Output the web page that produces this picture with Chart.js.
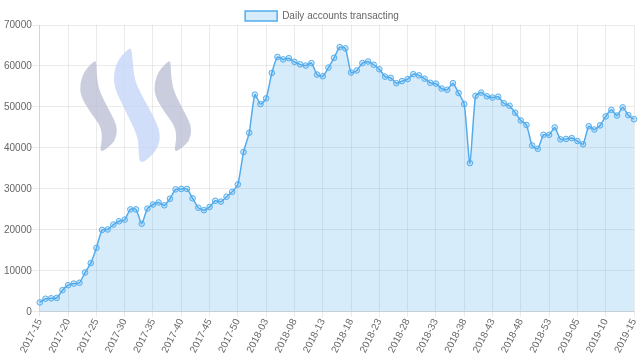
<!DOCTYPE html>
<html>
<head>
<meta charset="utf-8">
<script src="https://cdn.jsdelivr.net/npm/chart.js@4/dist/chart.umd.min.js"></script>
<style>
html,body{margin:0;padding:0;background:#fff;}
#wrap{width:640px;height:361px;position:relative;}
</style>
</head>
<body>
<div id="wrap"><canvas id="c" width="640" height="361"></canvas></div>
<script>
const seriesName = "Daily accounts transacting";
const weeks = [
"2017-15","2017-16","2017-17","2017-18","2017-19","2017-20","2017-21","2017-22","2017-23","2017-24",
"2017-25","2017-26","2017-27","2017-28","2017-29","2017-30","2017-31","2017-32","2017-33","2017-34",
"2017-35","2017-36","2017-37","2017-38","2017-39","2017-40","2017-41","2017-42","2017-43","2017-44",
"2017-45","2017-46","2017-47","2017-48","2017-49","2017-50","2017-51","2017-52",
"2018-01","2018-02","2018-03","2018-04","2018-05","2018-06","2018-07","2018-08","2018-09","2018-10",
"2018-11","2018-12","2018-13","2018-14","2018-15","2018-16","2018-17","2018-18","2018-19","2018-20",
"2018-21","2018-22","2018-23","2018-24","2018-25","2018-26","2018-27","2018-28","2018-29","2018-30",
"2018-31","2018-32","2018-33","2018-34","2018-35","2018-36","2018-37","2018-38","2018-39","2018-40",
"2018-41","2018-42","2018-43","2018-44","2018-45","2018-46","2018-47","2018-48","2018-49","2018-50",
"2018-51","2018-52","2018-53",
"2019-01","2019-02","2019-03","2019-04","2019-05","2019-06","2019-07","2019-08","2019-09","2019-10",
"2019-11","2019-12","2019-13","2019-14","2019-15"
];
const accounts = [
2300,3200,3300,3400,5300,6500,6900,7100,9600,11900,
15600,20000,20100,21300,22100,22500,25000,25000,21500,25200,
26200,26700,26000,27600,29900,30000,30000,27700,25400,24800,
25600,27100,26900,28100,29300,31100,39000,43700,
53000,50700,52100,58300,62200,61600,61900,61000,60400,60100,
60700,57900,57500,59600,62000,64600,64300,58400,58900,60700,
61100,60300,59200,57400,57100,55800,56300,56800,58000,57700,
56900,55900,55700,54500,54200,55800,53400,50700,36300,52700,
53500,52600,52300,52500,50900,50300,48600,46700,45600,40600,
39800,43200,43200,
45000,42100,42200,42400,41700,40900,45300,44500,45500,47700,
49300,47900,49900,48000,47000
];
const yTicks = [0,10000,20000,30000,40000,50000,60000,70000];
const labelEvery = 5;

// decorative logo drawn behind the data
function smoothShape(ctx, pts){
  ctx.beginPath();
  const n = pts.length;
  const mid = (a,b)=>[(a[0]+b[0])/2,(a[1]+b[1])/2];
  let m0 = mid(pts[n-1], pts[0]);
  ctx.moveTo(m0[0], m0[1]);
  for(let i=0;i<n;i++){
    const p = pts[i], q = pts[(i+1)%n];
    const m = mid(p,q);
    ctx.quadraticCurveTo(p[0],p[1],m[0],m[1]);
  }
  ctx.closePath();
  ctx.fill();
}
const logoPlugin = {
  id:'logo',
  beforeDatasetsDraw(chart){
    const ctx = chart.ctx;
    ctx.save();
    const side = [[96,60],[96.5,68],[97,77],[99,90],[107,106.5],[114.5,120],[117.5,130],[115,141],[107.5,148],[99.5,153],[102.5,137],[100,125],[90,112],[80.5,96],[80,83],[84.5,71],[91,64]];
    const midS = [[131.5,47],[132.5,60],[134.5,80],[142.5,97],[154,117],[160.5,133],[158.5,147],[149.5,158],[140,164],[138.5,153],[138.5,140],[133.5,127],[123.5,107],[114.5,88],[113.5,73],[118,60],[125,52]];
    ctx.fillStyle = 'rgba(182,186,208,0.72)';
    smoothShape(ctx, side);
    smoothShape(ctx, side.map(p=>[p[0]+74.3,p[1]]));
    ctx.fillStyle = 'rgba(196,214,248,0.8)';
    smoothShape(ctx, midS);
    ctx.restore();
  }
};

const FONT = "'Liberation Sans', Arial, Helvetica, sans-serif";
Chart.defaults.font.family = FONT;
Chart.defaults.font.size = 10;
Chart.defaults.color = '#666';

new Chart(document.getElementById('c'), {
  type:'line',
  data:{
    labels: weeks,
    datasets:[{
      label: seriesName,
      data: accounts,
      borderColor: 'rgb(84,172,236)',
      backgroundColor: 'rgba(54,162,235,0.2)',
      borderWidth: 1.5,
      fill: true,
      tension: 0.2,
      pointRadius: 2.8,
      pointBorderWidth: 1,
      pointBackgroundColor: 'rgba(54,162,235,0.2)',
      pointBorderColor: 'rgb(84,172,236)'
    }]
  },
  options:{
    responsive:false,
    animation:false,
    devicePixelRatio:1,
    layout:{padding:{left:4,right:0,top:3,bottom:6}},
    plugins:{
      legend:{
        position:'top',
        maxHeight:22,
        labels:{boxWidth:32,boxHeight:10,padding:8,font:{size:10,family:FONT},color:'#666'}
      },
      tooltip:{enabled:false}
    },
    scales:{
      x:{
        grid:{color:'rgba(0,0,0,0.08)',tickLength:5},
        afterFit:function(s){ s.paddingRight = 6; },
        ticks:{
          autoSkip:false,
          minRotation:63,maxRotation:63,
          padding:0,
          font:{size:10},
          callback:function(v,i){ return (i % labelEvery === 0) ? weeks[i] : null; }
        }
      },
      y:{
        min:yTicks[0], max:yTicks[yTicks.length-1],
        grid:{color:'rgba(0,0,0,0.08)',tickLength:8},
        afterBuildTicks:function(s){ s.ticks = yTicks.map(v=>({value:v})); },
        ticks:{
          padding:0,
          font:{size:10},
          callback:function(v){ return String(v); }
        }
      }
    }
  },
  plugins:[logoPlugin]
});
</script>
</body>
</html>
